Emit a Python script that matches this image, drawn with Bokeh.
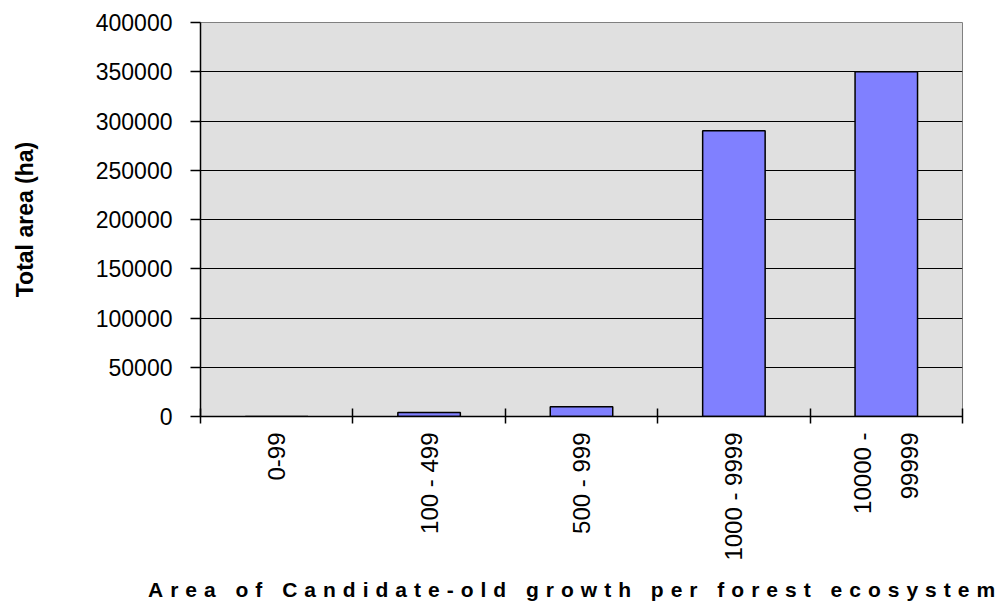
import numpy as np
from bokeh.plotting import figure
from bokeh.models import Range1d, FixedTicker, Div, ColumnDataSource
from bokeh.layouts import column
from bokeh.embed import file_html
from bokeh.resources import INLINE

# Area classes (ha) and total candidate old-growth area per class
categories = ["0-99", "100 - 499", "500 - 999", "1000 - 9999", "10000 -\n99999"]
total_area = [100, 4000, 10000, 290000, 350000]
y_ticks = [0, 50000, 100000, 150000, 200000, 250000, 300000, 350000, 400000]

x_pos = np.arange(len(categories)) + 0.5
src = ColumnDataSource(dict(x=x_pos, top=total_area))

p = figure(width=1001, height=565, output_backend="svg", toolbar_location=None,
           x_range=Range1d(0, len(categories)), y_range=Range1d(0, 400000),
           min_border_left=200, min_border_right=39, min_border_top=22,
           min_border_bottom=149)

p.background_fill_color = "#E0E0E0"
p.border_fill_color = "white"
p.outline_line_color = "#808080"
p.outline_line_width = 1

p.vbar(x="x", top="top", width=0.41, bottom=0, source=src,
       fill_color="#8080FF", line_color="black", line_width=1.5)

# x axis: labels at class centres, tick marks at class boundaries
xa = p.xaxis[0]
xa.ticker = FixedTicker(ticks=list(x_pos), minor_ticks=list(range(len(categories) + 1)))
xa.major_label_overrides = {float(x): c for x, c in zip(x_pos, categories)}
xa.major_tick_in = 0
xa.major_tick_out = 0
xa.minor_tick_in = 8
xa.minor_tick_out = 7
xa.minor_tick_line_color = "black"
xa.minor_tick_line_width = 1.5
xa.major_label_orientation = np.pi / 2
xa.major_label_text_font = "Liberation Sans"
xa.major_label_text_font_size = "24px"
xa.major_label_text_color = "black"
xa.major_label_text_line_height = 1.75
xa.major_label_standoff = 9
xa.axis_line_color = "black"
xa.axis_line_width = 1.5

ya = p.yaxis[0]
ya.ticker = FixedTicker(ticks=y_ticks, minor_ticks=[])
ya.formatter.use_scientific = False
ya.major_tick_in = 0
ya.major_tick_out = 10
ya.major_tick_line_color = "black"
ya.major_tick_line_width = 1.5
ya.minor_tick_line_color = None
ya.major_label_text_font = "Liberation Sans"
ya.major_label_text_font_size = "23px"
ya.major_label_text_color = "black"
ya.major_label_standoff = 18
ya.axis_line_color = "black"
ya.axis_line_width = 1.5
ya.axis_label = "Total area (ha)"
ya.axis_label_text_font = "Liberation Sans"
ya.axis_label_text_font_style = "bold"
ya.axis_label_text_font_size = "23px"
ya.axis_label_text_color = "black"
ya.axis_label_standoff = 55

p.xgrid.grid_line_color = None
p.ygrid.ticker = FixedTicker(ticks=y_ticks[:-1])
p.ygrid.grid_line_color = "black"
p.ygrid.grid_line_width = 1.2

title = Div(
    text="Area of Candidate-old growth per forest ecosystem",
    width=900, height=40, margin=(13, 0, 0, 148),
    styles={"font-family": "Liberation Sans", "font-weight": "bold",
            "font-size": "21px", "letter-spacing": "7px",
            "line-height": "24px", "white-space": "nowrap", "color": "black"},
)

layout = column(p, title, spacing=0)
open("out.html", "w").write(file_html(layout, INLINE))
